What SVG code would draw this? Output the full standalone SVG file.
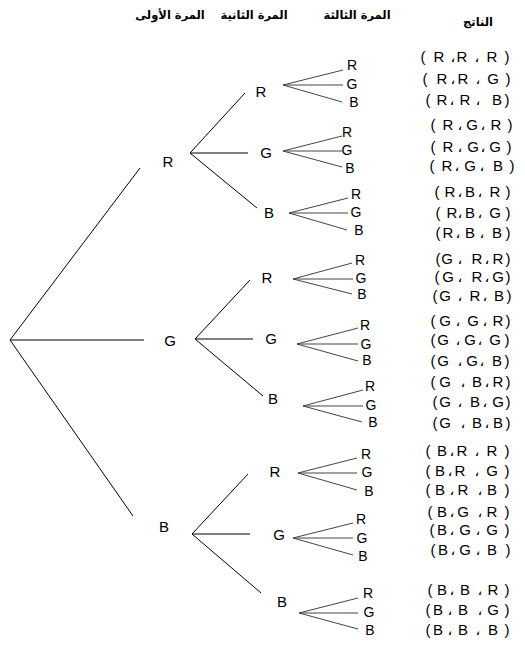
<svg xmlns="http://www.w3.org/2000/svg" width="525" height="654" viewBox="0 0 525 654">
<style>
.hd{font-family:"DejaVu Sans",sans-serif;font-size:11.5px;font-weight:bold;text-anchor:middle;fill:#000}
.lb{font-family:"Liberation Sans",Arial,sans-serif;font-size:15px;fill:#000;text-anchor:middle}
.sm{font-family:"Liberation Sans",Arial,sans-serif;font-size:14px;fill:#000;text-anchor:middle}
.res{font-family:"Liberation Sans","DejaVu Sans",sans-serif;font-size:15px;fill:#000;text-anchor:middle}
.ln{stroke:#000;stroke-width:1;fill:none}
.ln3{stroke:#444;stroke-width:1;fill:none}
</style>
<rect width="525" height="654" fill="#fff"/>
<g id="headers">
<text class="hd" x="170" y="19">المرة الأولى</text>
<text class="hd" x="254" y="19">المرة الثانية</text>
<text class="hd" x="357" y="19">المرة الثالثة</text>
<text class="hd" x="478" y="26">الناتج</text>
</g>
<g id="connectors">
<path class="ln" d="M10 340 L140 168 M10 340 L144 340 M10 340 L133 516"/>
<path class="ln" d="M190 153 L245 93 M190 153 L248 153 M190 153 L257 208"/>
<path class="ln" d="M195 339 L250 280 M195 339 L253 339 M195 339 L263 396"/>
<path class="ln" d="M192 534 L248 474 M192 534 L250 534 M192 534 L261 593"/>
<path class="ln3" d="M283 85 L343 70 M283 85 L343 85 M283 85 L342 102"/>
<path class="ln3" d="M283 151 L342 136 M283 151 L342 151 M283 151 L342 167"/>
<path class="ln3" d="M289 213 L348 198 M289 213 L348 213 M289 213 L347 230"/>
<path class="ln3" d="M293 279 L352 263 M293 279 L353 279 M293 279 L352 294"/>
<path class="ln3" d="M297 344 L358 328 M297 344 L358 344 M297 344 L358 361"/>
<path class="ln3" d="M303 406 L363 390 M303 406 L363 406 M303 406 L362 422"/>
<path class="ln3" d="M298 473 L357 458 M298 473 L357 473 M298 473 L357 490"/>
<path class="ln3" d="M293 538 L353 523 M293 538 L353 538 M293 538 L353 555"/>
<path class="ln3" d="M299 613 L358 598 M299 613 L358 613 M299 613 L358 629"/>
</g>
<g id="level1">
<text class="lb" x="168" y="167">R</text>
<text class="lb" x="170" y="346">G</text>
<text class="lb" x="164" y="532">B</text>
</g>
<g id="level2">
<text class="lb" x="261" y="97">R</text>
<text class="lb" x="266" y="158">G</text>
<text class="lb" x="269" y="218">B</text>
<text class="lb" x="267" y="283">R</text>
<text class="lb" x="271" y="344">G</text>
<text class="lb" x="273" y="404">B</text>
<text class="lb" x="275" y="477">R</text>
<text class="lb" x="279" y="540">G</text>
<text class="lb" x="282" y="607">B</text>
</g>
<g id="level3">
<text class="sm" x="352" y="70">R</text><text class="sm" x="352" y="89">G</text><text class="sm" x="354" y="107">B</text>
<text class="sm" x="347" y="137">R</text><text class="sm" x="347" y="155">G</text><text class="sm" x="350" y="173">B</text>
<text class="sm" x="356" y="199">R</text><text class="sm" x="356" y="217">G</text><text class="sm" x="359" y="235">B</text>
<text class="sm" x="360" y="265">R</text><text class="sm" x="361" y="283">G</text><text class="sm" x="362" y="299">B</text>
<text class="sm" x="365" y="330">R</text><text class="sm" x="366" y="349">G</text><text class="sm" x="367" y="365">B</text>
<text class="sm" x="370" y="391">R</text><text class="sm" x="371" y="410">G</text><text class="sm" x="373" y="427">B</text>
<text class="sm" x="366" y="459">R</text><text class="sm" x="367" y="477">G</text><text class="sm" x="369" y="496">B</text>
<text class="sm" x="361" y="524">R</text><text class="sm" x="362" y="543">G</text><text class="sm" x="363" y="561">B</text>
<text class="sm" x="368" y="598">R</text><text class="sm" x="369" y="617">G</text><text class="sm" x="370" y="635">B</text>
</g>
<g id="results">
<text class="res" x="423 439 453 462 477 492 507" y="62">(R،R،R)</text>
<text class="res" x="425 442 453 463 478 493 508" y="84">(R،R،G)</text>
<text class="res" x="428 442 452 465 478 497 507" y="105">(R،R،B)</text>
<text class="res" x="433 448 460 472 483 496 510" y="130">(R،G،R)</text>
<text class="res" x="433 448 460 473 483 495 509" y="152">(R،G،G)</text>
<text class="res" x="432 447 457 470 482 498 512" y="171">(R،G،B)</text>
<text class="res" x="437 450 460 470 480 495 508" y="197">(R،B،R)</text>
<text class="res" x="438 452 460 470 480 495 508" y="218">(R،B،G)</text>
<text class="res" x="438 448 458 470 482 497 508" y="238">(R،B،B)</text>
<text class="res" x="438 447 460 477 487 498 508" y="264">(G،R،R)</text>
<text class="res" x="437 448 460 477 487 498 508" y="282">(G،R،G)</text>
<text class="res" x="435 445 460 475 485 499 509" y="301">(G،R،B)</text>
<text class="res" x="433 445 458 473 485 498 508" y="326">(G،G،R)</text>
<text class="res" x="433 443 458 470 480 495 507" y="345">(G،G،G)</text>
<text class="res" x="433 443 460 472 482 497 507" y="366">(G،G،B)</text>
<text class="res" x="433 445 463 477 487 498 508" y="387">(G،B،R)</text>
<text class="res" x="435 445 460 475 485 498 508" y="407">(G،B،G)</text>
<text class="res" x="435 445 463 477 487 498 508" y="428">(G،B،B)</text>
<text class="res" x="428 442 452 462 477 492 507" y="456">(B،R،R)</text>
<text class="res" x="428 440 450 460 477 492 507" y="476">(B،R،G)</text>
<text class="res" x="428 440 452 463 480 492 507" y="495">(B،R،B)</text>
<text class="res" x="430 442 452 463 480 492 507" y="517">(B،G،R)</text>
<text class="res" x="432 442 452 465 478 492 507" y="535">(B،G،G)</text>
<text class="res" x="433 443 453 465 478 492 508" y="555">(B،G،B)</text>
<text class="res" x="430 442 452 465 480 493 507" y="595">(B،B،R)</text>
<text class="res" x="428 438 450 463 480 493 507" y="615">(B،B،G)</text>
<text class="res" x="428 438 450 463 478 493 507" y="635">(B،B،B)</text>
</g>
</svg>
